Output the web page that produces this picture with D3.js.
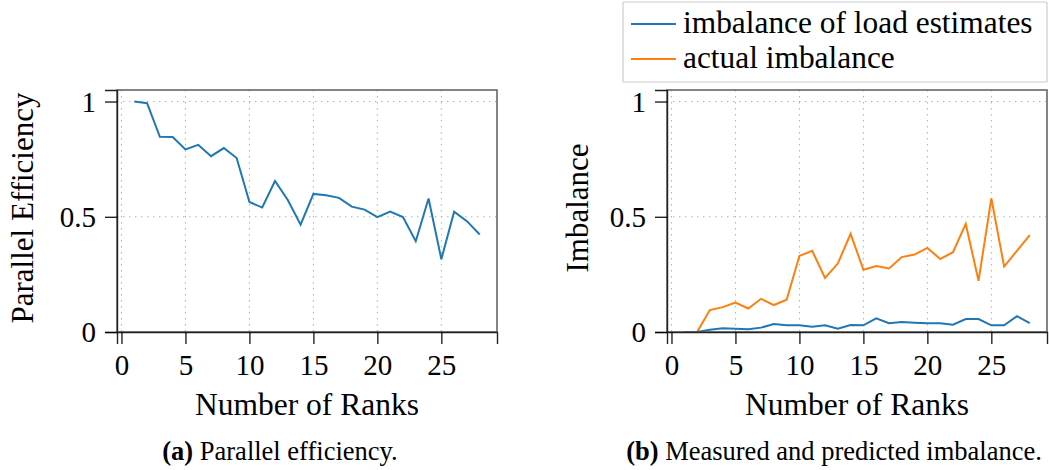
<!DOCTYPE html>
<html>
<head>
<meta charset="utf-8">
<script src="https://cdn.jsdelivr.net/npm/d3@7"></script>
</head>
<body style="margin:0">
<script>
// Data
const ranks = d3.range(1, 29);
const efficiency = [1.0, 0.993, 0.847, 0.846, 0.792, 0.812, 0.763, 0.798, 0.755, 0.564,
  0.540, 0.655, 0.573, 0.466, 0.599, 0.593, 0.582, 0.544, 0.531, 0.498,
  0.522, 0.499, 0.394, 0.579, 0.316, 0.522, 0.481, 0.423];
const estImbalance = [0, 0, 0.010, 0.016, 0.014, 0.012, 0.019, 0.035, 0.029, 0.029,
  0.023, 0.029, 0.014, 0.030, 0.029, 0.059, 0.038, 0.043, 0.040, 0.038,
  0.038, 0.032, 0.056, 0.056, 0.029, 0.029, 0.069, 0.039];
const actImbalance = [0, 0, 0.095, 0.108, 0.128, 0.102, 0.144, 0.117, 0.140, 0.330,
  0.352, 0.235, 0.297, 0.426, 0.270, 0.286, 0.276, 0.325, 0.336, 0.365,
  0.317, 0.346, 0.469, 0.222, 0.580, 0.284, 0.352, 0.420];
const xTicks = [0, 5, 10, 15, 20, 25];
const yTicks = [0, 0.5, 1];
const legendLabels = ["imbalance of load estimates", "actual imbalance"];
const colors = ["#1f77b4", "#ff7f0e"];

const FONT = "'Liberation Serif', 'Times New Roman', serif";

const svg = d3.select("body").append("svg")
  .attr("width", 1049)
  .attr("height", 470);

const plotW = 380, plotH = 242, plotTop = 90;

function label(sel, size) {
  return sel.style("font-family", FONT).style("font-size", size + "px");
}

function drawPanel(left, ylabel, ylabelX, series, caption, captionX, captionBold) {
  const x = d3.scaleLinear().domain([-0.35, 29.35]).range([left, left + plotW]);
  const y = d3.scaleLinear().domain([0, 1.05]).range([plotTop + plotH, plotTop]);

  const g = svg.append("g");

  // grid
  g.selectAll(".vgrid").data(xTicks).enter().append("line")
    .attr("x1", d => x(d)).attr("x2", d => x(d))
    .attr("y1", plotTop).attr("y2", plotTop + plotH)
    .attr("stroke", "#b0b0b0").attr("stroke-width", 1)
    .attr("stroke-dasharray", "1.5,4.5");
  g.selectAll(".hgrid").data(yTicks).enter().append("line")
    .attr("x1", left).attr("x2", left + plotW)
    .attr("y1", d => y(d)).attr("y2", d => y(d))
    .attr("stroke", "#b0b0b0").attr("stroke-width", 1)
    .attr("stroke-dasharray", "1.5,4.5");

  // lines
  const line = d3.line().x((d, i) => x(ranks[i])).y(d => y(d));
  series.forEach(s => {
    g.append("path")
      .datum(s.values)
      .attr("d", line)
      .attr("fill", "none")
      .attr("stroke", s.color)
      .attr("stroke-width", 2);
  });

  // frame
  g.append("rect")
    .attr("x", left).attr("y", plotTop)
    .attr("width", plotW).attr("height", plotH)
    .attr("fill", "none").attr("stroke", "#666").attr("stroke-width", 1.6);

  // axes
  const xAxis = g.append("g")
    .attr("transform", `translate(0,${plotTop + plotH})`)
    .call(d3.axisBottom(x).tickValues(xTicks).tickSize(12).tickPadding(6).tickFormat(d3.format("d")));
  const yAxis = g.append("g")
    .attr("transform", `translate(${left},0)`)
    .call(d3.axisLeft(y).tickValues(yTicks).tickSize(12).tickPadding(9).tickFormat(d => d === 0.5 ? "0.5" : d3.format("d")(d)));
  [xAxis, yAxis].forEach(a => {
    a.attr("font-family", null).attr("font-size", null);
    a.select(".domain").attr("stroke", "#222").attr("stroke-width", 1.4);
    a.selectAll(".tick line").attr("stroke", "#000").attr("stroke-width", 1.2);
    label(a.selectAll("text"), 29).attr("fill", "#000");
  });
  xAxis.selectAll("text").attr("dy", "0.85em");
  yAxis.selectAll("text").attr("dy", "0.34em");

  // axis titles
  label(g.append("text"), 31.5)
    .attr("x", left + plotW / 2).attr("y", 415)
    .attr("text-anchor", "middle")
    .text("Number of Ranks");
  label(g.append("text"), 31)
    .attr("transform", `translate(${ylabelX},${plotTop + plotH / 2 - 3}) rotate(-90)`)
    .attr("text-anchor", "middle")
    .text(ylabel);

  // caption
  const cap = label(g.append("text"), 26.5)
    .attr("x", captionX).attr("y", 460)
    .attr("text-anchor", "middle");
  cap.append("tspan").style("font-weight", "bold").text(captionBold);
  cap.append("tspan").text(" " + caption);
}

drawPanel(117, "Parallel Efficiency", 33,
  [{ values: efficiency, color: colors[0] }],
  "Parallel efficiency.", 280, "(a)");

drawPanel(667, "Imbalance", 588,
  [{ values: actImbalance, color: colors[1] }, { values: estImbalance, color: colors[0] }],
  "Measured and predicted imbalance.", 834, "(b)");

// legend
const legend = svg.append("g");
legend.append("rect")
  .attr("x", 623).attr("y", 2)
  .attr("width", 424).attr("height", 80)
  .attr("fill", "#fff").attr("stroke", "#ccc").attr("stroke-width", 1.2).attr("rx", 1);
legendLabels.forEach((lab, i) => {
  const ly = 24 + i * 35;
  legend.append("line")
    .attr("x1", 631).attr("x2", 676)
    .attr("y1", ly).attr("y2", ly)
    .attr("stroke", colors[i]).attr("stroke-width", 2);
  label(legend.append("text"), 31.4)
    .attr("x", 683).attr("y", ly + 9)
    .text(lab);
});
</script>
</body>
</html>
